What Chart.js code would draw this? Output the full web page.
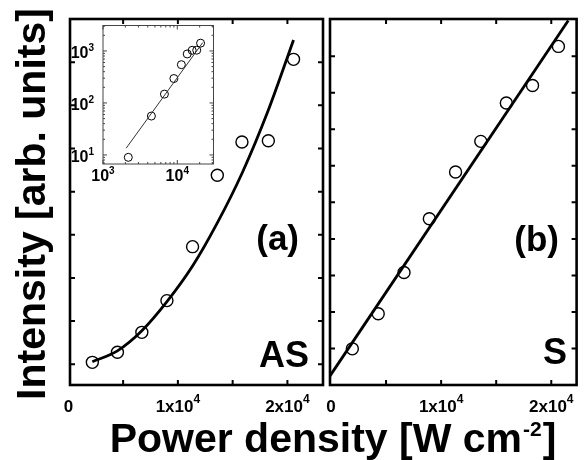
<!DOCTYPE html>
<html><head><meta charset="utf-8">
<script src="https://cdn.jsdelivr.net/npm/chart.js@4.4.1/dist/chart.umd.min.js"></script>
<style>
html,body{margin:0;padding:0;background:#fff;}
#wrap{position:relative;width:584px;height:460px;overflow:hidden;background:#fff;}
canvas{position:absolute;left:0;top:0;}
</style></head><body>
<div id="wrap">
<canvas id="ca" width="584" height="460"></canvas>
<canvas id="cb" width="584" height="460"></canvas>
<canvas id="ci" width="584" height="460"></canvas>
</div>
<script>
// ---------- data ----------
const powerAS      = [2190, 4480, 6710, 9000, 11340, 13600, 15850, 18260, 20560];
const intensityAS  = [9, 56, 148, 295, 545, 876, 1030, 1036, 1413];
const fitASx       = [2190, 4480, 6710, 9000, 11340, 13600, 15900, 18200, 20560];
const fitASy       = [12, 62, 155, 290, 455, 655, 890, 1170, 1503];

const powerS       = [1940, 4290, 6630, 8930, 11310, 13600, 15920, 18300, 20650];
const intensityS   = [99, 195, 308, 455, 583, 667, 772, 820, 927];
const fitSx        = [-89, 21545];
const fitSy        = [25, 998];

const insetFitX    = [2050, 22000];
const insetFitY    = [13.5, 1450];

// tick values / labels
const xTickMarks   = [5000, 10000, 15000, 20000];
const xTickLabels  = [[0, '0', ''], [10000, '1x10', '4'], [20000, '2x10', '4']];
const yTicksAS     = [0, 200, 400, 600, 800, 1000, 1200, 1400];
const yTicksS      = [100, 200, 300, 400, 500, 600, 700, 800, 900];
const insetXMajor  = [[1000, '10', '3'], [10000, '10', '4']];
const insetYMajor  = [[10, '10', '1'], [100, '10', '2'], [1000, '10', '3']];
const insetXMinor  = [2000, 3000, 4000, 5000, 6000, 7000, 8000, 9000, 20000, 30000];
const insetYMinor  = [7, 8, 9, 20, 30, 40, 50, 60, 70, 80, 90, 200, 300, 400, 500, 600, 700, 800, 900, 2000, 3000];

const titleY = 'Intensity [arb. units]';
const titleX = ['Power density [W cm', '-2', ']'];

const FONT = '"Liberation Sans", Arial, Helvetica, sans-serif';
const toXY = (xs, ys) => xs.map((x, i) => ({x: x, y: ys[i]}));

function supText(ctx, x, y, base, sup, size, supSize, rise, align) {
  ctx.textAlign = 'left'; ctx.textBaseline = 'alphabetic';
  ctx.font = 'bold ' + size + 'px ' + FONT;
  const wb = ctx.measureText(base).width;
  ctx.font = 'bold ' + supSize + 'px ' + FONT;
  const ws = sup ? ctx.measureText(sup).width : 0;
  const tot = wb + ws;
  const x0 = align === 'center' ? x - tot / 2 : (align === 'right' ? x - tot : x);
  ctx.font = 'bold ' + size + 'px ' + FONT;
  ctx.fillText(base, x0, y);
  if (sup) { ctx.font = 'bold ' + supSize + 'px ' + FONT; ctx.fillText(sup, x0 + wb, y - rise); }
}

function panelPlugin(cfg) {
  return {
    id: 'panel',
    beforeDatasetsDraw(chart) {
      if (!cfg.whiteBg) return;
      const a = chart.chartArea, ctx = chart.ctx;
      ctx.save(); ctx.fillStyle = '#fff';
      ctx.fillRect(a.left, a.top, a.right - a.left, a.bottom - a.top);
      ctx.restore();
    },
    afterDatasetsDraw(chart) {
      const a = chart.chartArea, ctx = chart.ctx;
      const xs = chart.scales.x, ys = chart.scales.y;
      ctx.save();
      ctx.strokeStyle = cfg.frameColor; ctx.fillStyle = '#000';
      // ticks
      ctx.lineWidth = cfg.tickWidth;
      ctx.beginPath();
      cfg.xTicks.forEach(t => {
        const v = t[0], len = t[1], p = xs.getPixelForValue(v);
        ctx.moveTo(p, a.bottom); ctx.lineTo(p, a.bottom - len);
        ctx.moveTo(p, a.top); ctx.lineTo(p, a.top + len);
      });
      cfg.yTicks.forEach(t => {
        const v = t[0], len = t[1], p = ys.getPixelForValue(v);
        ctx.moveTo(a.left, p); ctx.lineTo(a.left + len, p);
        ctx.moveTo(a.right, p); ctx.lineTo(a.right - len, p);
      });
      ctx.stroke();
      // frame
      ctx.lineWidth = cfg.frameWidth;
      ctx.strokeRect(a.left, a.top, a.right - a.left, a.bottom - a.top);
      // tick labels
      (cfg.xLabels || []).forEach(l => {
        supText(ctx, xs.getPixelForValue(l[0]), cfg.xLabelY, l[1], l[2], cfg.lblSize, cfg.supSize, cfg.rise, 'center');
      });
      (cfg.yLabels || []).forEach(l => {
        supText(ctx, cfg.yLabelX, ys.getPixelForValue(l[0]) + cfg.yLabelDy, l[1], l[2], cfg.lblSize, cfg.supSize, cfg.rise, 'right');
      });
      // panel texts
      (cfg.texts || []).forEach(t => {
        ctx.font = 'bold ' + t.size + 'px ' + FONT;
        ctx.textAlign = 'right'; ctx.textBaseline = 'alphabetic';
        ctx.fillText(t.s, t.x, t.y);
      });
      if (cfg.titles) {
        // y title
        ctx.save();
        ctx.translate(45, 204); ctx.rotate(-Math.PI / 2);
        ctx.font = 'bold 41px ' + FONT; ctx.textAlign = 'center'; ctx.textBaseline = 'alphabetic';
        ctx.fillText(titleY, 0, 0);
        ctx.restore();
        // x title
        ctx.textAlign = 'left'; ctx.textBaseline = 'alphabetic';
        ctx.font = 'bold 41px ' + FONT;
        const w1 = ctx.measureText(titleX[0]).width, w3 = ctx.measureText(titleX[2]).width;
        ctx.font = 'bold 21px ' + FONT;
        const w2 = ctx.measureText(titleX[1]).width;
        let x0 = 333 - (w1 + w2 + w3 + 2) / 2;
        ctx.font = 'bold 41px ' + FONT; ctx.fillText(titleX[0], x0, 452);
        ctx.font = 'bold 21px ' + FONT; ctx.fillText(titleX[1], x0 + w1 + 1, 436);
        ctx.font = 'bold 41px ' + FONT; ctx.fillText(titleX[2], x0 + w1 + w2 + 2, 452);
      }
      ctx.restore();
    }
  };
}

function options(pad, xs, ys) {
  return {
    responsive: false, animation: false, events: [], devicePixelRatio: 1,
    layout: {padding: pad},
    plugins: {legend: {display: false}, tooltip: {enabled: false}, title: {display: false}},
    scales: {x: Object.assign({display: false}, xs), y: Object.assign({display: false}, ys)}
  };
}

function fitSet(xs, ys, w, col, smooth) {
  return {data: toXY(xs, ys), showLine: true, borderColor: col, borderWidth: w,
          pointRadius: 0, fill: false, cubicInterpolationMode: smooth ? 'monotone' : 'default', tension: 0};
}
function ptSet(xs, ys, r, w) {
  return {data: toXY(xs, ys), showLine: false, pointStyle: 'circle', pointRadius: r,
          pointBorderWidth: w, pointBorderColor: '#000', pointBackgroundColor: 'rgba(0,0,0,0)', clip: false};
}

// Panel (a): anti-Stokes
new Chart(document.getElementById('ca'), {
  type: 'scatter',
  data: {datasets: [fitSet(fitASx, fitASy, 2.8, '#000', true), ptSet(powerAS, intensityAS, 6, 1.4)]},
  options: options({left: 70, top: 19, right: 261, bottom: 75},
                   {type: 'linear', min: 150, max: 23250}, {type: 'linear', min: -96, max: 1600}),
  plugins: [panelPlugin({
    frameColor: '#000', frameWidth: 2.6, tickWidth: 2,
    xTicks: xTickMarks.map(v => [v, 5]), yTicks: yTicksAS.map(v => [v, 5]),
    xLabels: xTickLabels, xLabelY: 412, lblSize: 17, supSize: 12, rise: 9,
    texts: [{s: '(a)', x: 299, y: 250, size: 35}, {s: 'AS', x: 309, y: 367, size: 36}],
    titles: true
  })]
});

// Panel (b): Stokes
new Chart(document.getElementById('cb'), {
  type: 'scatter',
  data: {datasets: [fitSet(fitSx, fitSy, 2.8, '#000', false), ptSet(powerS, intensityS, 6, 1.4)]},
  options: options({left: 330, top: 19, right: 3, bottom: 75},
                   {type: 'linear', min: -89, max: 22300}, {type: 'linear', min: 0, max: 1002}),
  plugins: [panelPlugin({
    frameColor: '#000', frameWidth: 2.6, tickWidth: 2,
    xTicks: xTickMarks.map(v => [v, 5]), yTicks: yTicksS.map(v => [v, 5]),
    xLabels: xTickLabels, xLabelY: 412, lblSize: 17, supSize: 12, rise: 9,
    texts: [{s: '(b)', x: 559, y: 251, size: 35}, {s: 'S', x: 567, y: 364, size: 36}]
  })]
});

// Inset: log-log of panel (a)
new Chart(document.getElementById('ci'), {
  type: 'scatter',
  data: {datasets: [fitSet(insetFitX, insetFitY, 1, '#333', false), ptSet(powerAS, intensityAS, 4, 1)]},
  options: options({left: 103, top: 25.5, right: 370.5, bottom: 296},
                   {type: 'logarithmic', min: 1000, max: 30700}, {type: 'logarithmic', min: 6.7, max: 3090}),
  plugins: [panelPlugin({
    whiteBg: true, frameColor: '#444', frameWidth: 1, tickWidth: 1,
    xTicks: insetXMajor.map(t => [t[0], 4]).concat(insetXMinor.map(v => [v, 2])),
    yTicks: insetYMajor.map(t => [t[0], 4]).concat(insetYMinor.map(v => [v, 2])),
    xLabels: insetXMajor, xLabelY: 181, lblSize: 16, supSize: 10, rise: 7,
    yLabels: insetYMajor, yLabelX: 94, yLabelDy: 7
  })]
});
</script>
</body></html>
